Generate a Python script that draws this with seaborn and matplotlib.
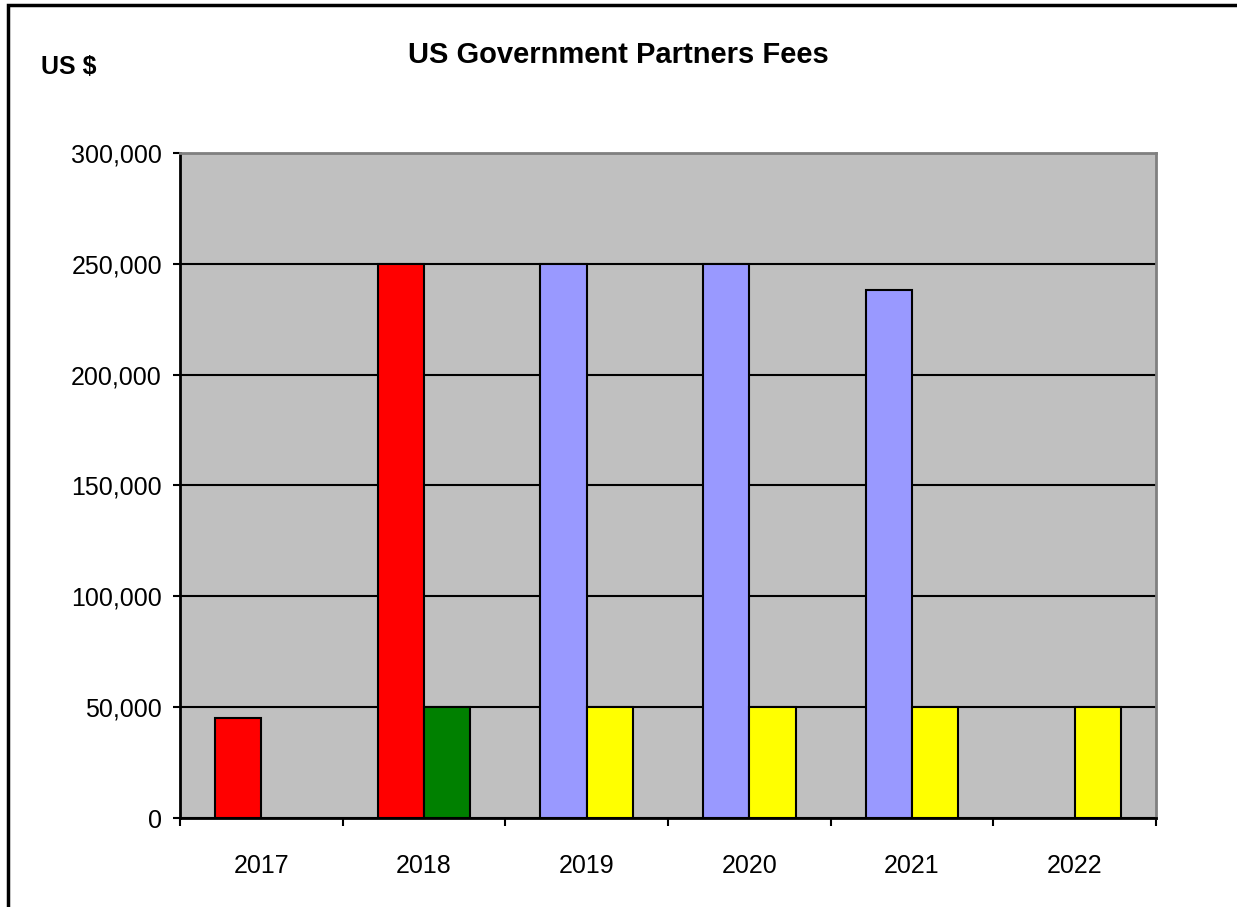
import matplotlib
matplotlib.use("Agg")
import matplotlib.pyplot as plt
import matplotlib.ticker as mticker
from matplotlib.patches import Rectangle
import seaborn as sns
import pandas as pd

years = ["2017", "2018", "2019", "2020", "2021", "2022"]
left_values = [45000, 250000, 250000, 250000, 238000, None]
right_values = [None, 50000, 50000, 50000, 50000, 50000]
left_colors = ["#FF0000", "#FF0000", "#9999FF", "#9999FF", "#9999FF", "#9999FF"]
right_colors = ["#008000", "#008000", "#FFFF00", "#FFFF00", "#FFFF00", "#FFFF00"]
y_ticks = [0, 50000, 100000, 150000, 200000, 250000, 300000]
title = "US Government Partners Fees"
y_label = "US $"

rows = []
for y, v in zip(years, left_values):
    if v is not None:
        rows.append({"year": y, "slot": "left", "value": v})
for y, v in zip(years, right_values):
    if v is not None:
        rows.append({"year": y, "slot": "right", "value": v})
df = pd.DataFrame(rows)

sns.set_theme(style="white")
plt.rcParams["font.family"] = ["Liberation Sans Narrow", "Liberation Sans", "DejaVu Sans"]
plt.rcParams["text.color"] = "black"
plt.rcParams["xtick.color"] = "black"
plt.rcParams["ytick.color"] = "black"
plt.rcParams["xtick.labelcolor"] = "black"
plt.rcParams["ytick.labelcolor"] = "black"

fig = plt.figure(figsize=(12.37, 9.07), dpi=100)
ax = fig.add_axes([180 / 1237, 1 - 818 / 907, 976 / 1237, 665 / 907])
ax.set_facecolor("#C0C0C0")

sns.barplot(data=df, x="year", y="value", hue="slot", order=years,
            hue_order=["left", "right"], dodge=True, width=0.57, gap=0,
            palette={"left": "#FF0000", "right": "#FFFF00"},
            edgecolor="black", linewidth=1.5, legend=False, ax=ax, zorder=3)

color_map = {"left": left_colors, "right": right_colors}
for cont, level in zip(ax.containers, ["left", "right"]):
    for bar in cont:
        idx = int(round(bar.get_x() + bar.get_width() / 2))
        bar.set_facecolor(color_map[level][idx])

ax.set_ylim(0, 300000)
ax.set_xlim(-0.5, len(years) - 0.5)
ax.set_yticks(y_ticks)
ax.yaxis.set_major_formatter(mticker.FuncFormatter(lambda v, p: f"{int(v):,}"))
ax.yaxis.grid(True, color="black", linewidth=1.5, zorder=1)
ax.set_axisbelow(True)
ax.set_xlabel("")
ax.set_ylabel("")

# category-boundary ticks on x axis
ax.set_xticks([i + 0.5 for i in range(-1, len(years))], minor=False)
ax.set_xticklabels([])
ax.set_xticks(range(len(years)), minor=True)
ax.set_xticklabels(years, minor=True)
ax.tick_params(axis="x", which="major", direction="out", length=6, width=1.5,
               color="black", bottom=True)
ax.tick_params(axis="x", which="minor", length=0, pad=26, labelsize=18,
               labelcolor="black")
ax.tick_params(axis="y", direction="out", length=5, width=1.5, color="black",
               left=True, labelsize=18, pad=8, labelcolor="black")

for s in ["left", "bottom"]:
    ax.spines[s].set_color("black")
    ax.spines[s].set_linewidth(2)
for s in ["top", "right"]:
    ax.spines[s].set_color("#808080")
    ax.spines[s].set_linewidth(2)
    ax.spines[s].set_visible(True)

fig.text(618 / 1237, 1 - 55 / 907, title, ha="center", va="center",
         fontsize=21, fontweight="bold", color="black")
fig.text(41 / 1237, 1 - 67 / 907, y_label, ha="left", va="center",
         fontsize=18, fontweight="bold", color="black")

fig.patches.append(Rectangle((8 / 1237, -0.1), 1.2, 1 - 5 / 907 + 0.1,
                             transform=fig.transFigure, fill=False,
                             edgecolor="black", linewidth=2.5, clip_on=False))

fig.savefig("out.png", dpi=100)
